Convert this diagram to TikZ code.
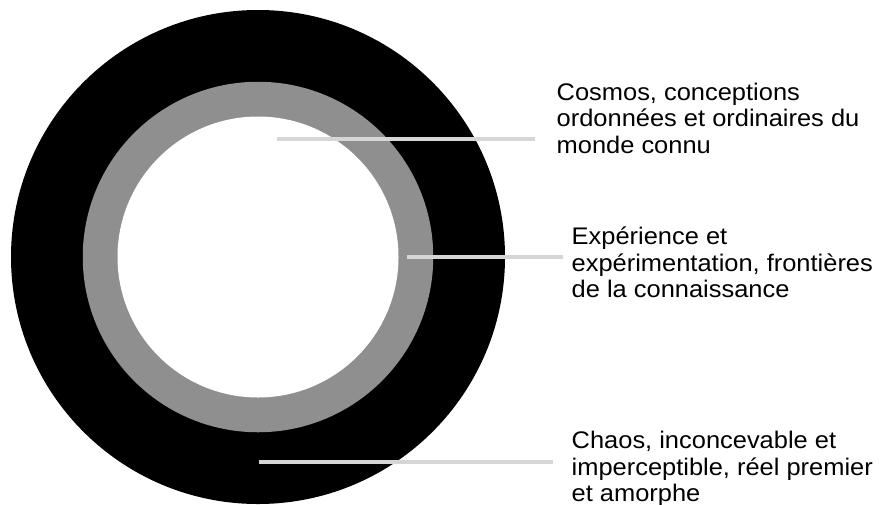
\documentclass[tikz,border=0pt]{standalone}
\usepackage{fontspec}
\setmainfont[FakeStretch=1.06]{Liberation Sans}
\begin{document}
\begin{tikzpicture}[x=1pt,y=-1pt,
  ring/.style={circle,inner sep=0pt,draw=none},
  leader/.style={draw={rgb,255:red,214;green,214;blue,214},line width=4pt},
  lbl/.style={anchor=base west,inner sep=0pt,align=left,font=\fontsize{24}{26.6}\selectfont}]
\definecolor{ringgray}{RGB}{143,143,143}
\useasboundingbox (0,0) rectangle (882,504);
\node[ring,fill=black,minimum size=494pt] (chaos) at (258,257) {};
\node[ring,fill=ringgray,minimum size=350.5pt] (exp) at (258,257) {};
\node[ring,fill=white,minimum size=281pt] (cosmos) at (258,257) {};
\coordinate (s1) at (277,139);
\coordinate (e1) at (535,139);
\coordinate (s2) at (407,257);
\coordinate (e2) at (563,257);
\coordinate (s3) at (259,462);
\coordinate (e3) at (553,462);
\draw[leader] (s1) -- (e1);
\draw[leader] (s2) -- (e2);
\draw[leader] (s3) -- (e3);
\node[lbl] (t1) at (556.5,153.2) {Cosmos, conceptions\\ordonnées et ordinaires du\\monde connu};
\node[lbl] (t2) at (571.5,297.7) {Expérience et\\expérimentation, frontières\\de la connaissance};
\node[lbl] (t3) at (571.5,501.7) {Chaos, inconcevable et\\imperceptible, réel premier\\et amorphe};
\end{tikzpicture}
\end{document}
